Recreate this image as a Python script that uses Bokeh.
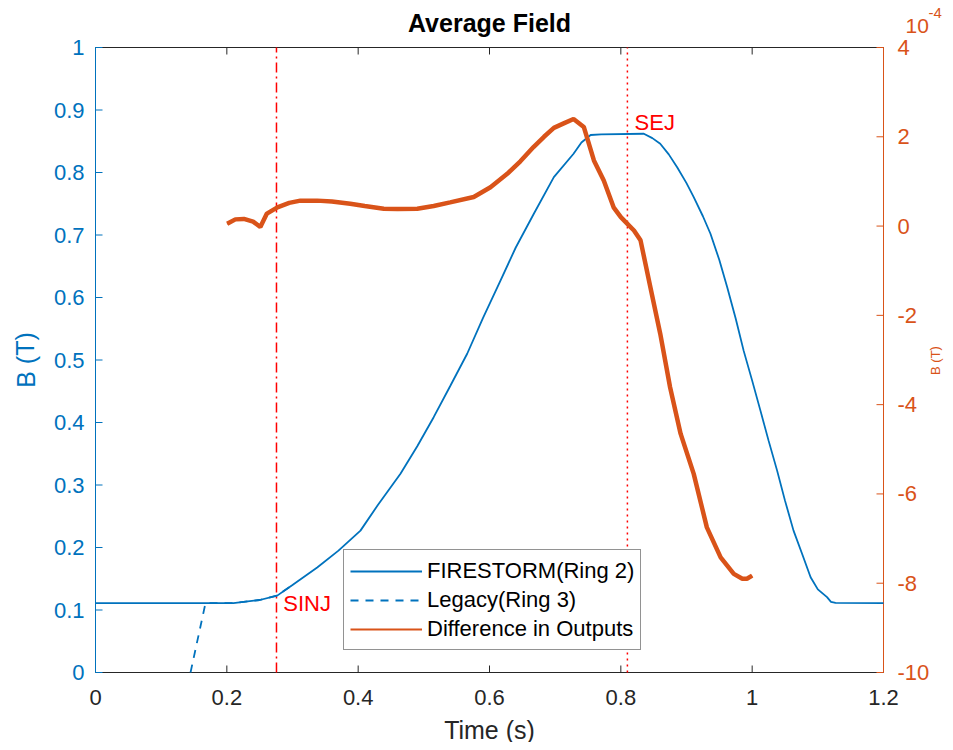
from bokeh.plotting import figure
from bokeh.models import Range1d, Label, Legend, LegendItem
from bokeh.embed import file_html
from bokeh.resources import INLINE

# ---- data ----
t_fire = [0.0, 0.21, 0.25, 0.2767, 0.30, 0.3376, 0.37, 0.4035, 0.43, 0.4644, 0.49, 0.515,
          0.54, 0.566, 0.59, 0.6167, 0.64, 0.6675, 0.698, 0.728, 0.74, 0.754, 0.77, 0.835,
          0.848, 0.860, 0.873, 0.886, 0.90, 0.911, 0.925, 0.9365, 0.95, 0.962, 0.975, 0.987,
          1.0, 1.0126, 1.025, 1.038, 1.05, 1.063, 1.076, 1.089, 1.10, 1.114, 1.12, 1.127, 1.2]
b_fire = [0.111, 0.111, 0.116, 0.123, 0.140, 0.168, 0.195, 0.227, 0.268, 0.318, 0.362, 0.4085,
          0.458, 0.51, 0.567, 0.627, 0.68, 0.734, 0.7925, 0.83, 0.848, 0.860, 0.861, 0.862,
          0.855, 0.846, 0.829, 0.808, 0.783, 0.7605, 0.73, 0.702, 0.66, 0.6165, 0.566, 0.515,
          0.467, 0.419, 0.371, 0.323, 0.275, 0.227, 0.19, 0.1525, 0.133, 0.1205, 0.113, 0.1115, 0.111]

t_legacy = [0.1447, 0.1675, 0.21, 0.25, 0.2767, 0.30]
b_legacy = [0.0, 0.111, 0.111, 0.116, 0.123, 0.140]

t_diff = [0.2005, 0.213, 0.226, 0.24, 0.251, 0.261, 0.277, 0.295, 0.312, 0.3376, 0.36, 0.388,
          0.41, 0.439, 0.46, 0.49, 0.515, 0.54, 0.576, 0.6015, 0.627, 0.647, 0.667, 0.683,
          0.698, 0.713, 0.728, 0.7436, 0.759, 0.774, 0.789, 0.80, 0.81, 0.82, 0.83, 0.845,
          0.860, 0.875, 0.891, 0.911, 0.931, 0.952, 0.972, 0.985, 0.992, 1.0]
d_diff_e4 = [0.05, 0.15, 0.16, 0.10, -0.02, 0.28, 0.42, 0.52, 0.57, 0.57, 0.55, 0.50,
             0.45, 0.39, 0.38, 0.39, 0.45, 0.53, 0.65, 0.87, 1.17, 1.45, 1.77, 2.0,
             2.2, 2.3, 2.4, 2.22, 1.47, 1.02, 0.42, 0.2, 0.05, -0.1, -0.32, -1.37,
             -2.41, -3.61, -4.65, -5.55, -6.75, -7.42, -7.79, -7.9, -7.9, -7.83]

x_ticks = [0, 0.2, 0.4, 0.6, 0.8, 1.0, 1.2]
x_labels = ["0", "0.2", "0.4", "0.6", "0.8", "1", "1.2"]
y_ticks = [0, 0.1, 0.2, 0.3, 0.4, 0.5, 0.6, 0.7, 0.8, 0.9, 1.0]
y_labels = ["0", "0.1", "0.2", "0.3", "0.4", "0.5", "0.6", "0.7", "0.8", "0.9", "1"]
y2_ticks = [-10, -8, -6, -4, -2, 0, 2, 4]
y2_labels = ["-10", "-8", "-6", "-4", "-2", "0", "2", "4"]
t_sinj = 0.2756
t_sej = 0.81

BLUE = "#0072BD"
ORANGE = "#D95319"
DARK = "#262626"
RED = "#FF0000"
FONT = "Liberation Sans"

# ---- layout geometry (pixels) ----
W, H = 945, 742
BOX_LEFT = 95                   # canvas column of x=0
BOX_TOP, BOX_BOTTOM = 47, 672   # canvas rows of y=1 and y=0
AX_W, AX_H = 788, 625
x0, x1 = x_ticks[0], x_ticks[-1]
y0, y1 = y_ticks[0], y_ticks[-1]
r0, r1 = y2_ticks[0], y2_ticks[-1]
px_x = (x1 - x0) / AX_W        # data units per pixel
px_y = (y1 - y0) / AX_H
px_r = (r1 - r0) / AX_H
TICK = 7

def xdata(col):
    return x0 + (col - BOX_LEFT) * px_x

def ydata(row):
    return y0 + (BOX_BOTTOM - row) * px_y

p = figure(width=W, height=H, output_backend="svg", toolbar_location=None,
           x_range=Range1d(xdata(0), xdata(W)), y_range=Range1d(ydata(H), ydata(0)),
           min_border_left=0, min_border_right=0, min_border_top=0, min_border_bottom=0)
p.outline_line_color = None
p.xgrid.visible = False
p.ygrid.visible = False
p.xaxis.visible = False
p.yaxis.visible = False
p.extra_y_ranges = {"diff": Range1d(r0 - (H - BOX_BOTTOM) * px_r, r0 + BOX_BOTTOM * px_r)}

n = len(x_ticks)
k = len(y_ticks)
m = len(y2_ticks)
TXT = dict(text_font={"value": FONT}, text_font_size="22px", text_baseline="middle")

# bottom axis
p.segment(x0=[x0], y0=[y0], x1=[x1], y1=[y0], line_color=DARK, line_width=1)
p.segment(x0=x_ticks, y0=[y0] * n, x1=x_ticks, y1=[y0 + TICK * px_y] * n,
          line_color=DARK, line_width=1)
p.text(x=x_ticks, y=[y0] * n, text=x_labels, y_offset=25, text_color=DARK,
       text_align="center", **TXT)
p.add_layout(Label(x=(x0 + x1) / 2, y=ydata(729), text="Time (s)", text_color=DARK,
                   text_font=FONT, text_font_size="25px", text_baseline="middle",
                   text_align="center"))
# top edge of the box with inward ticks
p.segment(x0=[x0], y0=[y1], x1=[x1], y1=[y1], line_color=DARK, line_width=1)
p.segment(x0=x_ticks, y0=[y1] * n, x1=x_ticks, y1=[y1 - TICK * px_y] * n,
          line_color=DARK, line_width=1)

# left axis (B)
p.segment(x0=[x0], y0=[y0], x1=[x0], y1=[y1], line_color=BLUE, line_width=1)
p.segment(x0=[x0] * k, y0=y_ticks, x1=[x0 + TICK * px_x] * k, y1=y_ticks,
          line_color=BLUE, line_width=1)
p.text(x=[x0] * k, y=y_ticks, text=y_labels, x_offset=-11, text_color=BLUE,
       text_align="right", **TXT)
p.add_layout(Label(x=xdata(25), y=(y0 + y1) / 2, text="B (T)", text_color=BLUE,
                   text_font=FONT, text_font_size="25px", text_baseline="middle",
                   text_align="center", angle=1.5708))

# right axis (difference, units of 1e-4)
p.segment(x0=[x1], y0=[r0], x1=[x1], y1=[r1], line_color=ORANGE, line_width=1,
          y_range_name="diff")
p.segment(x0=[x1 - TICK * px_x] * m, y0=y2_ticks, x1=[x1] * m, y1=y2_ticks,
          line_color=ORANGE, line_width=1, y_range_name="diff")
p.text(x=[x1] * m, y=y2_ticks, text=y2_labels, x_offset=14, text_color=ORANGE,
       text_align="left", y_range_name="diff", **TXT)

# event markers
p.segment(x0=[t_sinj], y0=[y0], x1=[t_sinj], y1=[y1], line_color=RED, line_width=1.5,
          line_dash="10 4 2 4")
p.segment(x0=[t_sej], y0=[y0], x1=[t_sej], y1=[y1], line_color=RED, line_width=1.5,
          line_dash="2 4")

r_leg = p.line(t_legacy, b_legacy, line_color=BLUE, line_width=1.8, line_dash="8 7")
r_fire = p.line(t_fire, b_fire, line_color=BLUE, line_width=1.8)
r_diff_thin = p.line(t_diff, d_diff_e4, line_color=ORANGE, line_width=2, y_range_name="diff")
r_diff = p.line(t_diff, d_diff_e4, line_color=ORANGE, line_width=4.5, y_range_name="diff")

p.add_layout(Label(x=0.286, y=0.11, text="SINJ", text_color=RED, text_font=FONT,
                   text_font_size="22px", text_baseline="middle", text_align="left"))
p.add_layout(Label(x=0.821, y=0.88, text="SEJ", text_color=RED, text_font=FONT,
                   text_font_size="22px", text_baseline="middle", text_align="left"))

# title
p.add_layout(Label(x=(x0 + x1) / 2, y=ydata(22), text="Average Field", text_color="#000000",
                   text_font=FONT, text_font_size="25px", text_font_style="bold",
                   text_baseline="middle", text_align="center"))
# exponent of the right axis
p.add_layout(Label(x=xdata(905), y=ydata(25.5), text="10", text_color=ORANGE,
                   text_font=FONT, text_font_size="21px", text_baseline="middle",
                   text_align="left"))
p.add_layout(Label(x=xdata(928), y=ydata(12.5), text="-4", text_color=ORANGE,
                   text_font=FONT, text_font_size="15px", text_baseline="middle",
                   text_align="left"))
# right axis label (squeezed into the remaining margin)
p.add_layout(Label(x=xdata(927), y=ydata(360), text="B (T)", text_color=ORANGE,
                   text_font=FONT, text_font_size="13px", text_baseline="top",
                   text_align="center", angle=1.5708))

legend = Legend(items=[LegendItem(label="FIRESTORM(Ring 2)", renderers=[r_fire]),
                       LegendItem(label="Legacy(Ring 3)", renderers=[r_leg]),
                       LegendItem(label="Difference in Outputs", renderers=[r_diff_thin])],
                location=(343, H - 650))
legend.border_line_color = DARK
legend.border_line_width = 1
legend.background_fill_color = "white"
legend.background_fill_alpha = 1
legend.label_text_font = FONT
legend.label_text_font_size = "22px"
legend.label_text_color = "#000000"
legend.glyph_width = 72
legend.glyph_height = 20
legend.label_height = 29
legend.padding = 6
legend.spacing = 0
legend.margin = 0
legend.label_standoff = 5
p.add_layout(legend)

open("out.html", "w").write(file_html(p, INLINE))
